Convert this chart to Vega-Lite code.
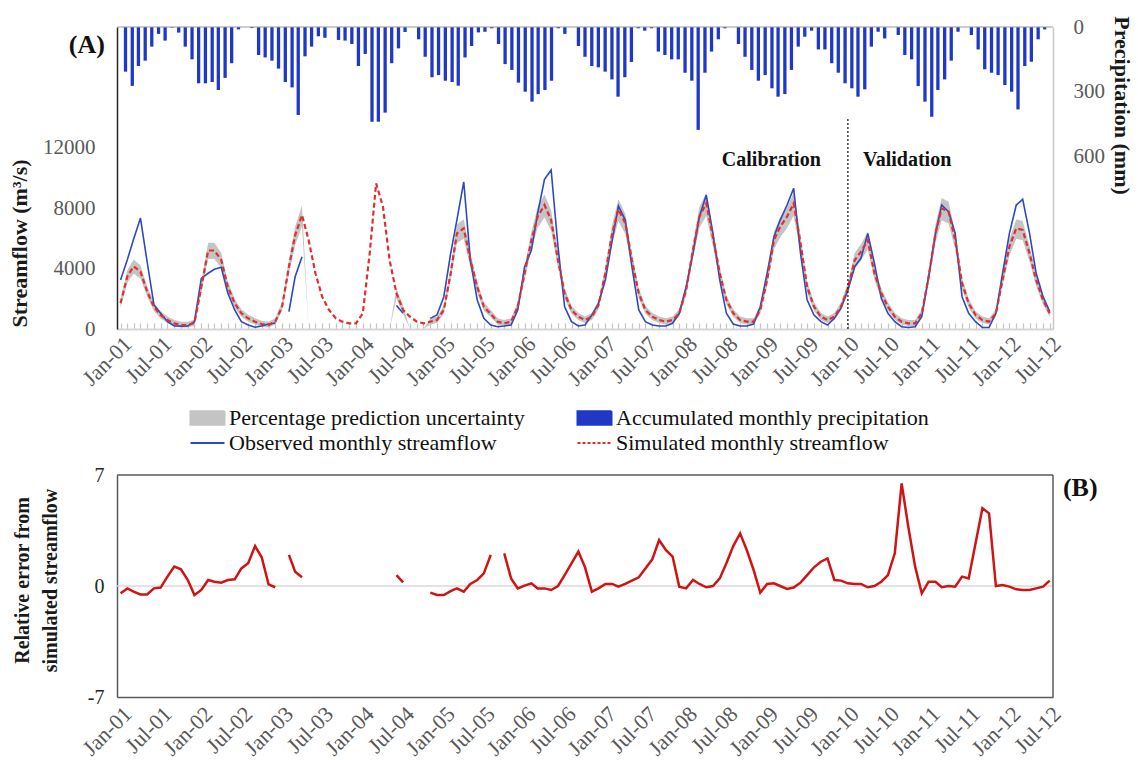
{
"$schema": "https://vega.github.io/schema/vega-lite/v6.json",
"width": 936, "height": 670,
"autosize": {"type": "none"},
"padding": {"left": 117, "top": 27, "right": 85, "bottom": 63},
"background": "white",
"config": {
 "view": {"stroke": null},
 "font": "Liberation Serif",
 "axis": {"grid": false, "labelFont": "Liberation Serif", "titleFont": "Liberation Serif", "labelFlush": false, "labelOverlap": false},
 "legend": {"labelFont": "Liberation Serif"},
 "text": {"font": "Liberation Serif"}
},
"datasets": {
 "main": [
{"d":"2001-01-01","p":207,"o":3250,"s":1700,"lo":1414,"hi":2002,"e":-0.46},
{"d":"2001-02-01","p":273,"o":4600,"s":3500,"lo":3070,"hi":3910,"e":-0.15},
{"d":"2001-03-01","p":181,"o":5950,"s":4150,"lo":3668,"hi":4599,"e":-0.36},
{"d":"2001-04-01","p":156,"o":7350,"s":3800,"lo":3346,"hi":4228,"e":-0.53},
{"d":"2001-05-01","p":91,"o":4470,"s":2500,"lo":2150,"hi":2850,"e":-0.53},
{"d":"2001-06-01","p":32,"o":1590,"s":1450,"lo":1184,"hi":1737,"e":-0.15},
{"d":"2001-07-01","p":63,"o":1040,"s":925,"lo":701,"hi":1181,"e":-0.1},
{"d":"2001-08-01","p":3,"o":485,"s":595,"lo":397,"hi":831,"e":0.59},
{"d":"2001-09-01","p":26,"o":200,"s":375,"lo":195,"hi":598,"e":1.22},
{"d":"2001-10-01","p":91,"o":190,"s":265,"lo":94,"hi":481,"e":1.05},
{"d":"2001-11-01","p":150,"o":200,"s":265,"lo":94,"hi":481,"e":0.38},
{"d":"2001-12-01","p":261,"o":485,"s":400,"lo":218,"hi":624,"e":-0.57},
{"d":"2002-01-01","p":261,"o":3355,"s":2780,"lo":2408,"hi":3147,"e":-0.25},
{"d":"2002-02-01","p":255,"o":3690,"s":5200,"lo":4634,"hi":5712,"e":0.38},
{"d":"2002-03-01","p":292,"o":3950,"s":5200,"lo":4634,"hi":5712,"e":0.27},
{"d":"2002-04-01","p":236,"o":4085,"s":4570,"lo":4054,"hi":5044,"e":0.21},
{"d":"2002-05-01","p":168,"o":2360,"s":2780,"lo":2408,"hi":3147,"e":0.38},
{"d":"2002-06-01","p":11,"o":1260,"s":1700,"lo":1414,"hi":2002,"e":0.42},
{"d":"2002-07-01","p":0,"o":485,"s":1040,"lo":807,"hi":1302,"e":1.11},
{"d":"2002-08-01","p":5,"o":265,"s":705,"lo":499,"hi":947,"e":1.43},
{"d":"2002-09-01","p":130,"o":120,"s":485,"lo":296,"hi":714,"e":2.52},
{"d":"2002-10-01","p":141,"o":200,"s":330,"lo":154,"hi":550,"e":1.81},
{"d":"2002-11-01","p":156,"o":330,"s":265,"lo":94,"hi":481,"e":0.1},
{"d":"2002-12-01","p":193,"o":400,"s":485,"lo":296,"hi":714,"e":-0.08},
{"d":"2003-01-01","p":255,"o":null,"s":1475,"lo":1207,"hi":1764,"e":null},
{"d":"2003-02-01","p":280,"o":1150,"s":4125,"lo":3645,"hi":4573,"e":1.96},
{"d":"2003-03-01","p":408,"o":3460,"s":6200,"lo":5554,"hi":6772,"e":0.9},
{"d":"2003-04-01","p":136,"o":4790,"s":7550,"lo":6796,"hi":8203,"e":0.55},
{"d":"2003-05-01","p":91,"o":null,"s":5890,"lo":0,"hi":0,"e":null},
{"d":"2003-06-01","p":43,"o":null,"s":3690,"lo":0,"hi":0,"e":null},
{"d":"2003-07-01","p":50,"o":null,"s":2140,"lo":0,"hi":0,"e":null},
{"d":"2003-08-01","p":0,"o":null,"s":1260,"lo":0,"hi":0,"e":null},
{"d":"2003-09-01","p":60,"o":null,"s":705,"lo":0,"hi":0,"e":null},
{"d":"2003-10-01","p":63,"o":null,"s":485,"lo":0,"hi":0,"e":null},
{"d":"2003-11-01","p":79,"o":null,"s":375,"lo":0,"hi":0,"e":null},
{"d":"2003-12-01","p":181,"o":null,"s":375,"lo":0,"hi":0,"e":null},
{"d":"2004-01-01","p":125,"o":null,"s":1040,"lo":0,"hi":0,"e":null},
{"d":"2004-02-01","p":439,"o":null,"s":5010,"lo":0,"hi":0,"e":null},
{"d":"2004-03-01","p":439,"o":null,"s":9645,"lo":0,"hi":0,"e":null},
{"d":"2004-04-01","p":397,"o":null,"s":8100,"lo":0,"hi":0,"e":null},
{"d":"2004-05-01","p":168,"o":null,"s":4570,"lo":0,"hi":0,"e":null},
{"d":"2004-06-01","p":99,"o":1550,"s":2360,"lo":2021,"hi":2702,"e":0.69},
{"d":"2004-07-01","p":23,"o":1040,"s":1260,"lo":1009,"hi":1536,"e":0.23},
{"d":"2004-08-01","p":0,"o":null,"s":815,"lo":0,"hi":0,"e":null},
{"d":"2004-09-01","p":57,"o":null,"s":485,"lo":0,"hi":0,"e":null},
{"d":"2004-10-01","p":138,"o":null,"s":375,"lo":0,"hi":0,"e":null},
{"d":"2004-11-01","p":233,"o":705,"s":485,"lo":296,"hi":714,"e":-0.42},
{"d":"2004-12-01","p":223,"o":925,"s":595,"lo":397,"hi":831,"e":-0.57},
{"d":"2005-01-01","p":249,"o":2140,"s":1260,"lo":1009,"hi":1536,"e":-0.57},
{"d":"2005-02-01","p":255,"o":5010,"s":3690,"lo":3245,"hi":4111,"e":-0.32},
{"d":"2005-03-01","p":272,"o":7215,"s":6335,"lo":5678,"hi":6915,"e":-0.15},
{"d":"2005-04-01","p":141,"o":9750,"s":6665,"lo":5982,"hi":7265,"e":-0.36},
{"d":"2005-05-01","p":88,"o":4570,"s":4570,"lo":4054,"hi":5044,"e":0.13},
{"d":"2005-06-01","p":25,"o":1920,"s":2780,"lo":2408,"hi":3147,"e":0.38},
{"d":"2005-07-01","p":22,"o":705,"s":1475,"lo":1207,"hi":1764,"e":0.8},
{"d":"2005-08-01","p":6,"o":265,"s":1000,"lo":770,"hi":1260,"e":1.96},
{"d":"2005-09-01","p":79,"o":150,"s":485,"lo":296,"hi":714,"e":null},
{"d":"2005-10-01","p":172,"o":200,"s":375,"lo":195,"hi":598,"e":2.06},
{"d":"2005-11-01","p":199,"o":265,"s":485,"lo":296,"hi":714,"e":0.48},
{"d":"2005-12-01","p":258,"o":1260,"s":1475,"lo":1207,"hi":1764,"e":-0.15},
{"d":"2006-01-01","p":300,"o":4125,"s":3690,"lo":3245,"hi":4111,"e":0.02},
{"d":"2006-02-01","p":346,"o":5230,"s":5890,"lo":5269,"hi":6443,"e":0.17},
{"d":"2006-03-01","p":311,"o":7660,"s":7435,"lo":6690,"hi":8081,"e":-0.15},
{"d":"2006-04-01","p":292,"o":9910,"s":8210,"lo":7403,"hi":8903,"e":-0.15},
{"d":"2006-05-01","p":249,"o":10530,"s":7215,"lo":6488,"hi":7848,"e":-0.25},
{"d":"2006-06-01","p":6,"o":5450,"s":4570,"lo":4054,"hi":5044,"e":0},
{"d":"2006-07-01","p":32,"o":1475,"s":2360,"lo":2021,"hi":2702,"e":0.69},
{"d":"2006-08-01","p":0,"o":485,"s":1260,"lo":1009,"hi":1536,"e":1.43},
{"d":"2006-09-01","p":88,"o":200,"s":815,"lo":600,"hi":1064,"e":2.17},
{"d":"2006-10-01","p":138,"o":265,"s":595,"lo":397,"hi":831,"e":1.18},
{"d":"2006-11-01","p":181,"o":925,"s":815,"lo":600,"hi":1064,"e":-0.36},
{"d":"2006-12-01","p":187,"o":1700,"s":1590,"lo":1313,"hi":1885,"e":-0.15},
{"d":"2007-01-01","p":207,"o":3245,"s":3690,"lo":3245,"hi":4111,"e":0.13},
{"d":"2007-02-01","p":243,"o":5890,"s":6335,"lo":5678,"hi":6915,"e":0.13},
{"d":"2007-03-01","p":323,"o":8140,"s":7925,"lo":7141,"hi":8601,"e":-0.04},
{"d":"2007-04-01","p":233,"o":7215,"s":7000,"lo":6290,"hi":7620,"e":0.13},
{"d":"2007-05-01","p":162,"o":4125,"s":4570,"lo":4054,"hi":5044,"e":0.34},
{"d":"2007-06-01","p":6,"o":1260,"s":2360,"lo":2021,"hi":2702,"e":0.55},
{"d":"2007-07-01","p":17,"o":485,"s":1260,"lo":1009,"hi":1536,"e":1.11},
{"d":"2007-08-01","p":6,"o":265,"s":815,"lo":600,"hi":1064,"e":1.68},
{"d":"2007-09-01","p":114,"o":200,"s":595,"lo":397,"hi":831,"e":2.9},
{"d":"2007-10-01","p":130,"o":200,"s":485,"lo":296,"hi":714,"e":2.27},
{"d":"2007-11-01","p":150,"o":380,"s":595,"lo":397,"hi":831,"e":1.85},
{"d":"2007-12-01","p":150,"o":1040,"s":1040,"lo":807,"hi":1302,"e":-0.04},
{"d":"2008-01-01","p":212,"o":2800,"s":2580,"lo":2224,"hi":2935,"e":-0.15},
{"d":"2008-02-01","p":249,"o":5010,"s":5230,"lo":4662,"hi":5744,"e":0.38},
{"d":"2008-03-01","p":477,"o":7435,"s":7435,"lo":6690,"hi":8081,"e":0.13},
{"d":"2008-04-01","p":212,"o":8870,"s":8320,"lo":7504,"hi":9019,"e":-0.08},
{"d":"2008-05-01","p":114,"o":6335,"s":6110,"lo":5471,"hi":6677,"e":0},
{"d":"2008-06-01","p":57,"o":3245,"s":3690,"lo":3245,"hi":4111,"e":0.48},
{"d":"2008-07-01","p":6,"o":1040,"s":1920,"lo":1616,"hi":2235,"e":1.43},
{"d":"2008-08-01","p":0,"o":330,"s":1040,"lo":807,"hi":1302,"e":2.52},
{"d":"2008-09-01","p":79,"o":200,"s":595,"lo":397,"hi":831,"e":3.32},
{"d":"2008-10-01","p":138,"o":200,"s":485,"lo":296,"hi":714,"e":2.27},
{"d":"2008-11-01","p":199,"o":330,"s":485,"lo":296,"hi":714,"e":1.01},
{"d":"2008-12-01","p":249,"o":1475,"s":1260,"lo":1009,"hi":1536,"e":-0.42},
{"d":"2009-01-01","p":223,"o":3690,"s":3245,"lo":2835,"hi":3640,"e":0.13},
{"d":"2009-02-01","p":284,"o":6110,"s":5890,"lo":5269,"hi":6443,"e":0.17},
{"d":"2009-03-01","p":323,"o":7215,"s":6770,"lo":6078,"hi":7376,"e":0},
{"d":"2009-04-01","p":311,"o":8210,"s":7435,"lo":6690,"hi":8081,"e":-0.19},
{"d":"2009-05-01","p":199,"o":9310,"s":8320,"lo":7504,"hi":9019,"e":-0.1},
{"d":"2009-06-01","p":91,"o":5010,"s":5670,"lo":5066,"hi":6210,"e":0.21},
{"d":"2009-07-01","p":45,"o":1920,"s":2780,"lo":2408,"hi":3147,"e":0.69},
{"d":"2009-08-01","p":17,"o":925,"s":1475,"lo":1207,"hi":1764,"e":1.18},
{"d":"2009-09-01","p":104,"o":485,"s":815,"lo":600,"hi":1064,"e":1.53},
{"d":"2009-10-01","p":104,"o":265,"s":595,"lo":397,"hi":831,"e":1.74},
{"d":"2009-11-01","p":168,"o":705,"s":815,"lo":600,"hi":1064,"e":0.38},
{"d":"2009-12-01","p":212,"o":1400,"s":1475,"lo":1207,"hi":1764,"e":0.34},
{"d":"2010-01-01","p":261,"o":2580,"s":2695,"lo":2329,"hi":3057,"e":0.17},
{"d":"2010-02-01","p":284,"o":4125,"s":4570,"lo":4054,"hi":5044,"e":0.13},
{"d":"2010-03-01","p":323,"o":4680,"s":5100,"lo":4542,"hi":5606,"e":0.13},
{"d":"2010-04-01","p":289,"o":6335,"s":5890,"lo":5269,"hi":6443,"e":-0.08},
{"d":"2010-05-01","p":91,"o":4350,"s":3690,"lo":3245,"hi":4111,"e":0},
{"d":"2010-06-01","p":22,"o":2030,"s":2360,"lo":2021,"hi":2702,"e":0.27},
{"d":"2010-07-01","p":53,"o":1040,"s":1475,"lo":1207,"hi":1764,"e":0.69},
{"d":"2010-08-01","p":0,"o":485,"s":815,"lo":600,"hi":1064,"e":2.06},
{"d":"2010-09-01","p":37,"o":150,"s":485,"lo":296,"hi":714,"e":6.47},
{"d":"2010-10-01","p":130,"o":100,"s":375,"lo":195,"hi":598,"e":3.74},
{"d":"2010-11-01","p":150,"o":150,"s":375,"lo":195,"hi":598,"e":1.22},
{"d":"2010-12-01","p":274,"o":815,"s":1040,"lo":807,"hi":1302,"e":-0.46},
{"d":"2011-01-01","p":346,"o":3460,"s":3460,"lo":3033,"hi":3868,"e":0.27},
{"d":"2011-02-01","p":416,"o":6335,"s":6335,"lo":5678,"hi":6915,"e":0.27},
{"d":"2011-03-01","p":292,"o":8210,"s":7990,"lo":7201,"hi":8669,"e":-0.08},
{"d":"2011-04-01","p":243,"o":7765,"s":7765,"lo":6994,"hi":8431,"e":0},
{"d":"2011-05-01","p":156,"o":6335,"s":5890,"lo":5269,"hi":6443,"e":-0.04},
{"d":"2011-06-01","p":22,"o":2140,"s":3025,"lo":2633,"hi":3407,"e":0.59},
{"d":"2011-07-01","p":0,"o":1040,"s":1700,"lo":1414,"hi":2002,"e":0.48},
{"d":"2011-08-01","p":37,"o":485,"s":925,"lo":701,"hi":1181,"e":2.69},
{"d":"2011-09-01","p":104,"o":100,"s":595,"lo":397,"hi":831,"e":4.9},
{"d":"2011-10-01","p":196,"o":100,"s":485,"lo":296,"hi":714,"e":4.58},
{"d":"2011-11-01","p":212,"o":1040,"s":1040,"lo":807,"hi":1302,"e":0},
{"d":"2011-12-01","p":223,"o":3690,"s":3245,"lo":2835,"hi":3640,"e":0.06},
{"d":"2012-01-01","p":269,"o":6335,"s":5450,"lo":4864,"hi":5977,"e":-0.04},
{"d":"2012-02-01","p":300,"o":8210,"s":6665,"lo":5982,"hi":7265,"e":-0.21},
{"d":"2012-03-01","p":382,"o":8585,"s":6555,"lo":5881,"hi":7148,"e":-0.25},
{"d":"2012-04-01","p":181,"o":6335,"s":5010,"lo":4459,"hi":5511,"e":-0.25},
{"d":"2012-05-01","p":161,"o":3690,"s":3245,"lo":2835,"hi":3640,"e":-0.15},
{"d":"2012-06-01","p":57,"o":2140,"s":1920,"lo":1616,"hi":2235,"e":-0.04},
{"d":"2012-07-01","p":11,"o":1150,"s":1040,"lo":807,"hi":1302,"e":0.34}
 ],
 "notesA": [
  {"d":"2009-01-20","v":11190,"t":"Calibration","sz":20},
  {"d":"2010-09-26","v":11190,"t":"Validation","sz":20},
  {"d":"2000-08-02","v":18800,"t":"(A)","sz":26}
 ],
 "notesB": [
  {"d":"2012-08-30","v":6.2,"t":"(B)"}
 ],
 "one": [{}]
},
"data": {"name": "main"},
"resolve": {"scale": {"x": "independent", "y": "independent"}},
"layer": [
 {
  "layer": [
   {
    "mark": {"type": "bar", "size": 3.3},
    "encoding": {
     "x": {"field": "d", "type": "temporal", "scale": {"type": "utc", "domain": [{"year":2000,"month":12,"date":16,"utc":true},{"year":2012,"month":7,"date":16,"utc":true}]}, "axis": null},
     "y": {"field": "p", "type": "quantitative", "scale": {"domain": [0, 1400], "range": [0, 302]},
      "axis": {"orient": "right", "values": [0, 300, 600], "ticks": false, "labelPadding": 20, "labelFontSize": 21, "labelColor": "#595959", "domainColor": "#c8c8c8", "domainWidth": 1.5,
       "title": "Precipitation (mm)", "titleFontSize": 22, "titleFontWeight": "bold", "titleColor": "#1a1a1a", "titleX": 68, "titleY": 78, "titleAngle": 90, "titleBaseline": "middle", "titleAlign": "center"}},
     "color": {"datum": "Accumulated monthly precipitation", "type": "nominal",
      "scale": {"domain": ["Percentage prediction uncertainty", "Accumulated monthly precipitation", "Observed monthly streamflow", "Simulated monthly streamflow"], "range": ["#c4c4c4", "#1f39c6", "#2f48c4", "#e0302b"]},
      "legend": {"orient": "none", "legendX": 79.5, "legendY": 380, "direction": "horizontal", "columns": 2, "columnPadding": 48, "rowPadding": 3, "title": null, "padding": 0,
       "labelFontSize": 22, "labelColor": "#111", "labelOffset": 10.5, "labelLimit": 0, "symbolSize": 289,
       "encode": {"symbols": {"update": {
        "shape": {"signal": "(datum.value == 'Percentage prediction uncertainty' || datum.value == 'Accumulated monthly precipitation') ? 'M-2,-0.8H2V0.8H-2Z' : 'M-2,0H2'"},
        "fill": {"signal": "datum.value == 'Percentage prediction uncertainty' ? '#c4c4c4' : datum.value == 'Accumulated monthly precipitation' ? '#1f39c6' : 'transparent'"},
        "stroke": {"signal": "datum.value == 'Observed monthly streamflow' ? '#2f48c4' : datum.value == 'Simulated monthly streamflow' ? '#e0302b' : 'transparent'"},
        "strokeWidth": {"value": 2},
        "strokeDash": {"signal": "datum.value == 'Simulated monthly streamflow' ? [3, 2] : [1, 0]"},
        "opacity": {"value": 1}
       }}}}}
    }
   },
   {
    "data": {"name": "one"},
    "mark": {"type": "rule", "color": "#9a9a9a", "strokeWidth": 1.2},
    "encoding": {"y": {"datum": 0, "type": "quantitative", "scale": {"domain": [0, 1400], "range": [0, 302]}}}
   }
  ]
 },
 {
  "layer": [
   {
    "mark": {"type": "area", "color": "#c4c4c4", "opacity": 1},
    "encoding": {
     "x": {"field": "d", "type": "temporal", "scale": {"type": "utc", "domain": [{"year":2000,"month":12,"date":16,"utc":true},{"year":2012,"month":7,"date":16,"utc":true}]},
      "axis": {"orient": "bottom", "offset": -368, "tickCount": {"interval": "month", "step": 1}, "labelExpr": "utcmonth(datum.value) % 6 == 0 ? utcFormat(datum.value, '%b-%y') : ''",
       "labelAngle": -45, "labelFontSize": 22, "labelColor": "#595959", "labelPadding": 10, "ticks": true, "tickSize": -6, "tickColor": "#c4c4c4", "tickWidth": 1.2,
       "domainColor": "#d6d6d6", "domainWidth": 2, "title": null}},
     "y": {"field": "lo", "type": "quantitative", "scale": {"domain": [0, 20000], "range": [302, 0]},
      "axis": {"orient": "left", "values": [0, 4000, 8000, 12000], "format": "d", "ticks": false, "labelPadding": 22, "labelFontSize": 21, "labelColor": "#595959", "domainColor": "#262626", "domainWidth": 1.5,
       "title": "Streamflow (m³/s)", "titleFontSize": 22, "titleFontWeight": "bold", "titleColor": "#1a1a1a", "titleX": -98, "titleY": 216, "titleAngle": -90, "titleBaseline": "middle", "titleAlign": "center"}},
     "y2": {"field": "hi"},
     "color": {"datum": "Percentage prediction uncertainty", "type": "nominal"}
    }
   },
   {
    "mark": {"type": "line", "strokeWidth": 1.6, "invalid": "break-paths-filter-domains"},
    "encoding": {
     "x": {"field": "d", "type": "temporal", "scale": {"type": "utc", "domain": [{"year":2000,"month":12,"date":16,"utc":true},{"year":2012,"month":7,"date":16,"utc":true}]}},
     "y": {"field": "o", "type": "quantitative", "scale": {"domain": [0, 20000], "range": [302, 0]}},
     "color": {"datum": "Observed monthly streamflow", "type": "nominal"}
    }
   },
   {
    "mark": {"type": "line", "strokeWidth": 2.2, "strokeDash": [5, 3]},
    "encoding": {
     "x": {"field": "d", "type": "temporal", "scale": {"type": "utc", "domain": [{"year":2000,"month":12,"date":16,"utc":true},{"year":2012,"month":7,"date":16,"utc":true}]}},
     "y": {"field": "s", "type": "quantitative", "scale": {"domain": [0, 20000], "range": [302, 0]}},
     "color": {"datum": "Simulated monthly streamflow", "type": "nominal"}
    }
   },
   {
    "data": {"name": "one"},
    "mark": {"type": "rule", "color": "#111", "strokeWidth": 1.2, "strokeDash": [2, 2]},
    "encoding": {
     "x": {"datum": {"year":2010,"month":1,"date":1,"utc":true}, "type": "temporal", "scale": {"type": "utc", "domain": [{"year":2000,"month":12,"date":16,"utc":true},{"year":2012,"month":7,"date":16,"utc":true}]}},
     "y": {"datum": 0, "type": "quantitative", "scale": {"domain": [0, 20000], "range": [302, 0]}},
     "y2": {"datum": 14000}
    }
   },
   {
    "data": {"name": "notesA"},
    "mark": {"type": "text", "fontWeight": "bold", "color": "#111", "align": "center", "baseline": "middle"},
    "encoding": {
     "x": {"field": "d", "type": "temporal", "scale": {"type": "utc", "domain": [{"year":2000,"month":12,"date":16,"utc":true},{"year":2012,"month":7,"date":16,"utc":true}]}},
     "y": {"field": "v", "type": "quantitative", "scale": {"domain": [0, 20000], "range": [302, 0]}},
     "text": {"field": "t"},
     "size": {"field": "sz", "type": "quantitative", "scale": null}
    }
   }
  ]
 },
 {
  "layer": [
   {
    "data": {"name": "one"},
    "mark": {"type": "rule", "color": "#d9d9d9", "strokeWidth": 1.5},
    "encoding": {"y": {"datum": 0, "type": "quantitative", "scale": {"domain": [-7, 7], "range": [670, 448]}}}
   },
   {
    "data": {"name": "one"},
    "mark": {"type": "rule", "color": "#595959", "strokeWidth": 1.5},
    "encoding": {"y": {"datum": 7, "type": "quantitative", "scale": {"domain": [-7, 7], "range": [670, 448]}}}
   },
   {
    "data": {"name": "one"},
    "mark": {"type": "rule", "color": "#595959", "strokeWidth": 1.5},
    "encoding": {
     "x": {"datum": {"year":2012,"month":7,"date":16,"utc":true}, "type": "temporal", "scale": {"type": "utc", "domain": [{"year":2000,"month":12,"date":16,"utc":true},{"year":2012,"month":7,"date":16,"utc":true}]}},
     "y": {"datum": -7, "type": "quantitative", "scale": {"domain": [-7, 7], "range": [670, 448]}},
     "y2": {"datum": 7}
    }
   },
   {
    "mark": {"type": "line", "color": "#cf1414", "strokeWidth": 2.5, "invalid": "break-paths-filter-domains"},
    "encoding": {
     "x": {"field": "d", "type": "temporal", "scale": {"type": "utc", "domain": [{"year":2000,"month":12,"date":16,"utc":true},{"year":2012,"month":7,"date":16,"utc":true}]},
      "axis": {"orient": "bottom", "offset": 0, "tickCount": {"interval": "month", "step": 6}, "format": "%b-%y", "labelAngle": -45, "labelFontSize": 22, "labelColor": "#595959", "labelPadding": 6, "ticks": false, "domainColor": "#595959", "domainWidth": 1.5, "title": null}},
     "y": {"field": "e", "type": "quantitative", "scale": {"domain": [-7, 7], "range": [670, 448]},
      "axis": {"orient": "left", "values": [-7, 0, 7], "format": "d", "ticks": false, "labelPadding": 13, "labelFontSize": 20, "labelColor": "#262626", "domainColor": "#595959", "domainWidth": 1.5,
       "labelExpr": "datum.value < 0 ? '-' + abs(datum.value) : datum.label",
       "title": ["Relative error from", "simulated  streamflow"], "titleFontSize": 20, "titleFontWeight": "bold", "titleColor": "#1a1a1a", "titleX": -95, "titleY": 553, "titleAngle": -90, "titleBaseline": "middle", "titleAlign": "center", "titleLineHeight": 28}}
    }
   },
   {
    "data": {"name": "notesB"},
    "mark": {"type": "text", "fontWeight": "bold", "fontSize": 26, "color": "#111", "align": "left", "baseline": "middle"},
    "encoding": {
     "x": {"field": "d", "type": "temporal", "scale": {"type": "utc", "domain": [{"year":2000,"month":12,"date":16,"utc":true},{"year":2012,"month":7,"date":16,"utc":true}]}},
     "y": {"field": "v", "type": "quantitative", "scale": {"domain": [-7, 7], "range": [670, 448]}},
     "text": {"field": "t"}
    }
   }
  ]
 }
]
}
